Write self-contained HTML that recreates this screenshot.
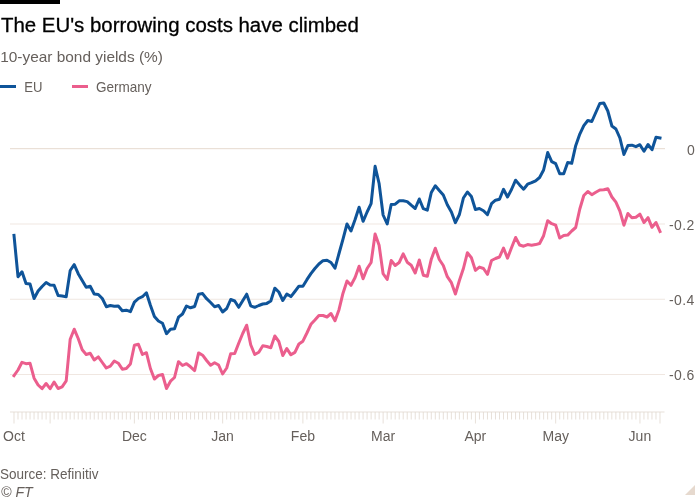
<!DOCTYPE html>
<html lang="en">
<head>
<meta charset="utf-8">
<title>The EU's borrowing costs have climbed</title>
<style>
html,body{margin:0;padding:0;background:#fff;}
body{width:700px;height:500px;overflow:hidden;}
svg{display:block;will-change:transform;font-family:"Liberation Sans",sans-serif;}
.title{font-size:20.42px;fill:#000;stroke:#000;stroke-width:.3px;}
.sub{font-size:15.42px;fill:#66605c;}
.leg{font-size:14.2px;fill:#66605c;}
.ax text{font-size:14px;fill:#66605c;}
.foot{font-size:14.2px;fill:#66605c;}
.grid path{stroke:#e6d9ce;stroke-width:1;fill:none;}
.tick{stroke:#e1d8d0;stroke-width:1;fill:none;opacity:.8;}
.line{fill:none;stroke-width:3;stroke-linejoin:round;stroke-linecap:square;}
</style>
</head>
<body>
<svg width="700" height="500" viewBox="0 0 700 500">
<rect width="700" height="500" fill="#fff"/>
<rect x="0" y="0" width="60" height="4" fill="#000"/>
<text class="title" x="1" y="31.5">The EU's borrowing costs have climbed</text>
<text class="sub" x="0.2" y="61.6">10-year bond yields (%)</text>
<g class="leg">
<path d="M0,86.5H16" stroke="#0f5499" stroke-width="3"/>
<text x="24.3" y="92" textLength="18.2" lengthAdjust="spacingAndGlyphs">EU</text>
<path d="M72,86.5H88" stroke="#eb5e8d" stroke-width="3"/>
<text x="96" y="92" textLength="55.6" lengthAdjust="spacingAndGlyphs">Germany</text>
</g>
<g class="grid"><path d="M10,148.70H665" opacity="1"/><path d="M10,224.00H665" opacity=".62"/><path d="M10,299.25H665" opacity=".62"/><path d="M10,374.50H665" opacity=".62"/></g>
<g class="ax"><text x="694.7" y="154.6" text-anchor="end">0</text><text x="694.4" y="229.9" text-anchor="end" textLength="25.4" lengthAdjust="spacing">-0.2</text><text x="694.4" y="305.1" text-anchor="end" textLength="25.4" lengthAdjust="spacing">-0.4</text><text x="694.4" y="380.4" text-anchor="end" textLength="25.4" lengthAdjust="spacing">-0.6</text></g>
<path class="tick" d="M10,412H664.5"/>
<path class="tick" d="M18.01,412v7.5M22.02,412v7.5M26.04,412v7.5M30.05,412v7.5M34.06,412v7.5M38.07,412v7.5M42.09,412v7.5M46.10,412v7.5M54.12,412v7.5M58.14,412v7.5M62.15,412v7.5M66.16,412v7.5M70.17,412v7.5M74.19,412v7.5M78.20,412v7.5M82.21,412v7.5M86.22,412v7.5M90.24,412v7.5M94.25,412v7.5M98.26,412v7.5M102.27,412v7.5M106.29,412v7.5M110.30,412v7.5M114.31,412v7.5M118.32,412v7.5M122.34,412v7.5M126.35,412v7.5M130.36,412v7.5M138.39,412v7.5M142.40,412v7.5M146.41,412v7.5M150.42,412v7.5M154.43,412v7.5M158.45,412v7.5M162.46,412v7.5M166.47,412v7.5M170.48,412v7.5M174.50,412v7.5M178.51,412v7.5M182.52,412v7.5M186.53,412v7.5M190.55,412v7.5M194.56,412v7.5M198.57,412v7.5M202.58,412v7.5M206.60,412v7.5M210.61,412v7.5M214.62,412v7.5M218.63,412v7.5M226.66,412v7.5M230.67,412v7.5M234.68,412v7.5M238.70,412v7.5M242.71,412v7.5M246.72,412v7.5M250.73,412v7.5M254.75,412v7.5M258.76,412v7.5M262.77,412v7.5M266.78,412v7.5M270.80,412v7.5M274.81,412v7.5M278.82,412v7.5M282.83,412v7.5M286.84,412v7.5M290.86,412v7.5M294.87,412v7.5M298.88,412v7.5M306.91,412v7.5M310.92,412v7.5M314.93,412v7.5M318.94,412v7.5M322.96,412v7.5M326.97,412v7.5M330.98,412v7.5M334.99,412v7.5M339.01,412v7.5M343.02,412v7.5M347.03,412v7.5M351.04,412v7.5M355.06,412v7.5M359.07,412v7.5M363.08,412v7.5M367.09,412v7.5M371.11,412v7.5M375.12,412v7.5M379.13,412v7.5M387.16,412v7.5M391.17,412v7.5M395.18,412v7.5M399.19,412v7.5M403.20,412v7.5M407.22,412v7.5M411.23,412v7.5M415.24,412v7.5M419.25,412v7.5M423.27,412v7.5M427.28,412v7.5M431.29,412v7.5M435.30,412v7.5M439.32,412v7.5M443.33,412v7.5M447.34,412v7.5M451.35,412v7.5M455.37,412v7.5M459.38,412v7.5M463.39,412v7.5M467.40,412v7.5M471.42,412v7.5M479.44,412v7.5M483.45,412v7.5M487.47,412v7.5M491.48,412v7.5M495.49,412v7.5M499.50,412v7.5M503.52,412v7.5M507.53,412v7.5M511.54,412v7.5M515.55,412v7.5M519.57,412v7.5M523.58,412v7.5M527.59,412v7.5M531.60,412v7.5M535.61,412v7.5M539.63,412v7.5M543.64,412v7.5M547.65,412v7.5M551.66,412v7.5M559.69,412v7.5M563.70,412v7.5M567.71,412v7.5M571.73,412v7.5M575.74,412v7.5M579.75,412v7.5M583.76,412v7.5M587.78,412v7.5M591.79,412v7.5M595.80,412v7.5M599.81,412v7.5M603.83,412v7.5M607.84,412v7.5M611.85,412v7.5M615.86,412v7.5M619.88,412v7.5M623.89,412v7.5M627.90,412v7.5M631.91,412v7.5M635.93,412v7.5M643.95,412v7.5M647.96,412v7.5M651.98,412v7.5M655.99,412v7.5"/>
<path class="tick" d="M14.00,412v11.5M50.11,412v11.5M134.37,412v11.5M222.65,412v11.5M302.89,412v11.5M383.14,412v11.5M475.43,412v11.5M555.68,412v11.5M639.94,412v11.5M660.00,412v11.5"/>
<g class="ax"><text x="14.0" y="440.5" text-anchor="middle">Oct</text><text x="134.4" y="440.5" text-anchor="middle">Dec</text><text x="222.6" y="440.5" text-anchor="middle">Jan</text><text x="302.9" y="440.5" text-anchor="middle">Feb</text><text x="383.1" y="440.5" text-anchor="middle">Mar</text><text x="475.4" y="440.5" text-anchor="middle">Apr</text><text x="555.7" y="440.5" text-anchor="middle">May</text><text x="639.9" y="440.5" text-anchor="middle">Jun</text></g>
<path class="line" stroke="#eb5e8d" d="M14.0,375.6L18.0,370.0L22.0,362.3L26.0,363.7L30.0,363.2L34.1,378.2L38.1,385.0L42.1,388.7L46.1,383.5L50.1,388.7L54.1,382.0L58.1,388.5L62.1,386.8L66.2,380.8L70.2,339.2L74.2,329.2L78.2,338.5L82.2,349.7L86.2,354.5L90.2,353.2L94.2,360.0L98.3,356.9L102.3,362.5L106.3,368.0L110.3,366.2L114.3,361.0L118.3,363.2L122.3,369.2L126.3,368.5L130.4,364.0L134.4,345.2L138.4,344.2L142.4,354.5L146.4,352.7L150.4,368.5L154.4,379.0L158.4,375.5L162.5,374.5L166.5,388.5L170.5,381.2L174.5,377.5L178.5,361.7L182.5,365.5L186.5,363.7L190.5,366.8L194.6,370.6L198.6,352.9L202.6,355.2L206.6,360.5L210.6,365.3L214.6,362.7L218.6,365.0L222.6,374.0L226.7,368.0L230.7,353.7L234.7,353.5L238.7,343.2L242.7,333.5L246.7,325.2L250.7,344.7L254.7,354.5L258.8,352.2L262.8,345.8L266.8,346.5L270.8,347.7L274.8,336.0L278.8,341.5L282.8,355.5L286.8,348.6L290.9,354.8L294.9,352.4L298.9,344.0L302.9,341.2L306.9,333.0L310.9,324.3L314.9,320.0L318.9,315.5L323.0,315.5L327.0,317.0L331.0,313.5L335.0,320.7L339.0,309.7L343.0,293.2L347.0,281.0L351.0,285.3L355.1,277.5L359.1,266.2L363.1,278.7L367.1,268.5L371.1,262.5L375.1,234.0L379.1,245.2L383.1,273.7L387.2,279.5L391.2,260.5L395.2,265.5L399.2,262.5L403.2,253.8L407.2,262.2L411.2,265.2L415.2,273.0L419.3,260.0L423.3,275.2L427.3,276.3L431.3,259.2L435.3,248.2L439.3,259.5L443.3,265.5L447.3,276.7L451.4,282.7L455.4,294.0L459.4,280.5L463.4,268.5L467.4,252.7L471.4,257.7L475.4,270.4L479.4,267.1L483.5,268.5L487.5,274.3L491.5,260.5L495.5,258.5L499.5,257.0L503.5,248.0L507.5,258.2L511.5,247.7L515.6,237.5L519.6,245.0L523.6,246.2L527.6,244.6L531.6,245.2L535.6,244.6L539.6,243.5L543.6,235.7L547.7,220.7L551.7,223.7L555.7,225.2L559.7,238.0L563.7,235.5L567.7,235.1L571.7,231.0L575.7,227.5L579.8,209.0L583.8,195.5L587.8,191.5L591.8,194.7L595.8,192.2L599.8,190.0L603.8,189.8L607.8,188.7L611.9,197.0L615.9,202.2L619.9,211.2L623.9,225.2L627.9,213.5L631.9,217.7L635.9,217.2L639.9,214.2L644.0,222.5L648.0,217.7L652.0,227.3L656.0,222.5L660.0,231.5"/>
<path class="line" stroke="#0f5499" d="M14.0,235.4L18.0,276.7L22.0,271.8L26.0,283.5L30.0,284.0L34.1,298.5L38.1,291.0L42.1,286.5L46.1,282.5L50.1,285.0L54.1,285.3L58.1,295.5L62.1,296.0L66.2,296.7L70.2,270.5L74.2,264.7L78.2,273.7L82.2,280.5L86.2,287.2L90.2,286.2L94.2,294.0L98.3,294.5L102.3,298.5L106.3,306.7L110.3,305.5L114.3,306.2L118.3,306.0L122.3,310.8L126.3,310.2L130.4,311.7L134.4,302.2L138.4,298.5L142.4,296.7L146.4,292.8L150.4,305.2L154.4,316.5L158.4,321.0L162.5,323.2L166.5,333.7L170.5,329.2L174.5,328.8L178.5,317.2L182.5,314.0L186.5,306.0L190.5,307.8L194.6,306.5L198.6,294.2L202.6,293.6L206.6,298.7L210.6,302.5L214.6,306.7L218.6,305.5L222.6,312.0L226.7,308.5L230.7,299.5L234.7,301.0L238.7,307.3L242.7,300.7L246.7,294.2L250.7,305.8L254.7,307.3L258.8,305.5L262.8,304.0L266.8,303.4L270.8,301.0L274.8,288.2L278.8,292.0L282.8,300.5L286.8,294.0L290.9,296.6L294.9,291.5L298.9,286.2L302.9,286.2L306.9,279.7L310.9,273.7L314.9,268.5L318.9,264.0L323.0,260.7L327.0,260.2L331.0,262.5L335.0,268.2L339.0,253.5L343.0,239.2L347.0,224.0L351.0,231.0L355.1,219.5L359.1,207.2L363.1,221.3L367.1,212.0L371.1,203.7L375.1,166.3L379.1,183.5L383.1,215.0L387.2,224.0L391.2,204.5L395.2,204.2L399.2,200.8L403.2,200.8L407.2,201.6L411.2,205.2L415.2,208.5L419.3,199.0L423.3,208.7L427.3,210.2L431.3,192.5L435.3,185.7L439.3,190.5L443.3,195.0L447.3,204.7L451.4,212.0L455.4,222.7L459.4,214.5L463.4,198.0L467.4,192.0L471.4,196.5L475.4,209.5L479.4,208.5L483.5,210.7L487.5,214.6L491.5,203.7L495.5,200.2L499.5,199.2L503.5,189.3L507.5,197.0L511.5,189.5L515.6,180.2L519.6,184.9L523.6,189.2L527.6,184.2L531.6,182.7L535.6,180.8L539.6,177.5L543.6,170.0L547.7,152.5L551.7,161.7L555.7,163.7L559.7,173.7L563.7,173.7L567.7,162.6L571.7,163.3L575.7,145.7L579.8,134.1L583.8,125.7L587.8,120.5L591.8,121.5L595.8,112.5L599.8,103.5L603.8,103.0L607.8,111.0L611.9,126.0L615.9,129.0L619.9,138.0L623.9,154.5L627.9,145.5L631.9,145.2L635.9,146.7L639.9,144.7L644.0,151.2L648.0,144.5L652.0,149.7L656.0,137.2L660.0,138.0"/>
<text class="foot" x="0" y="479" textLength="98.4" lengthAdjust="spacingAndGlyphs">Source: Refinitiv</text>
<text class="foot" x="1" y="496.5" font-style="italic" textLength="31.7" lengthAdjust="spacingAndGlyphs">© FT</text>
<path d="M685,495H695V485Z" fill="#e6d9ce"/>
</svg>
</body>
</html>
